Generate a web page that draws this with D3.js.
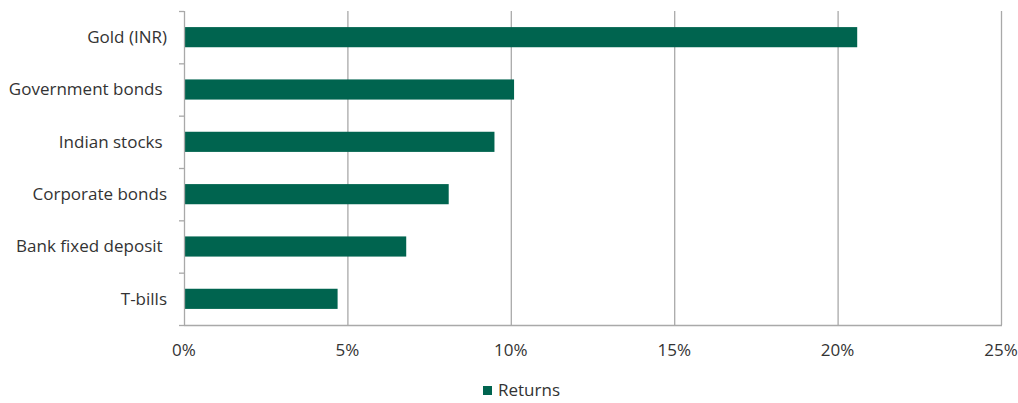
<!DOCTYPE html>
<html>
<head>
<meta charset="utf-8">
<script src="https://cdn.jsdelivr.net/npm/d3@7"></script>
<style>
  html, body { margin: 0; padding: 0; background: #fff; }
  svg { display: block; font-family: "Open Sans", "Noto Sans", sans-serif; }
  text { white-space: pre; }
</style>
</head>
<body>
<svg id="chart" width="1018" height="403"></svg>
<script>
// Average annual returns by asset class
const categories = ["Gold (INR)", "Government bonds ", "Indian stocks ", "Corporate bonds", "Bank fixed deposit ", "T-bills"];
const returns = [20.6, 10.1, 9.5, 8.1, 6.8, 4.7];
const xTicks = [0, 5, 10, 15, 20, 25];
const seriesName = "Returns";

const barColor = "#00644f";
const gridColor = "#a9a9a9";
const textColor = "#333333";
const fontSize = 17;

const svg = d3.select("#chart");
const plotLeft = 184, plotRight = 1001, plotTop = 11, plotBottom = 325;

const x = d3.scaleLinear().domain([0, 25]).range([plotLeft, plotRight]);
const y = d3.scaleBand().domain(categories).range([plotTop, plotBottom]).paddingInner(0.615).paddingOuter(0.3075);

// vertical gridlines
svg.append("g")
  .selectAll("line")
  .data(xTicks.slice(1))
  .join("line")
  .attr("x1", d => x(d) + 0.5).attr("x2", d => x(d) + 0.5)
  .attr("y1", plotTop).attr("y2", plotBottom)
  .attr("stroke", gridColor).attr("stroke-width", 1.3);

// bars
svg.append("g")
  .selectAll("rect")
  .data(categories)
  .join("rect")
  .attr("x", x(0))
  .attr("y", d => y(d))
  .attr("width", (d, i) => x(returns[i]) - x(0))
  .attr("height", y.bandwidth())
  .attr("fill", barColor);

// category axis with band-boundary ticks
const step = y.step();
const boundaries = d3.range(categories.length + 1).map(i => plotTop + i * step);
const yAxis = svg.append("g");
yAxis.append("line")
  .attr("x1", plotLeft + 0.5).attr("x2", plotLeft + 0.5)
  .attr("y1", plotTop).attr("y2", plotBottom)
  .attr("stroke", gridColor).attr("stroke-width", 1.3);
yAxis.selectAll("line.tick")
  .data(boundaries)
  .join("line").attr("class", "tick")
  .attr("x1", plotLeft - 5).attr("x2", plotLeft)
  .attr("y1", d => d + 0.5).attr("y2", d => d + 0.5)
  .attr("stroke", gridColor).attr("stroke-width", 1.3);
yAxis.selectAll("text")
  .data(categories)
  .join("text")
  .attr("x", 167)
  .attr("y", d => y(d) + y.bandwidth() / 2)
  .attr("dy", "0.35em")
  .attr("text-anchor", "end")
  .attr("fill", textColor)
  .attr("font-size", fontSize)
  .text(d => d);

// value axis
const xAxis = svg.append("g");
xAxis.append("line")
  .attr("x1", plotLeft).attr("x2", plotRight + 1)
  .attr("y1", plotBottom + 0.5).attr("y2", plotBottom + 0.5)
  .attr("stroke", gridColor).attr("stroke-width", 1.3);
xAxis.selectAll("text")
  .data(xTicks)
  .join("text")
  .attr("x", d => x(d))
  .attr("y", 356)
  .attr("text-anchor", "middle")
  .attr("fill", textColor)
  .attr("font-size", fontSize)
  .text(d => d + "%");

// legend
const legend = svg.append("g");
legend.append("rect")
  .attr("x", 483).attr("y", 386)
  .attr("width", 9).attr("height", 9)
  .attr("fill", barColor);
legend.append("text")
  .attr("x", 498).attr("y", 390.5)
  .attr("dy", "0.35em")
  .attr("fill", textColor)
  .attr("font-size", fontSize)
  .text(seriesName);
</script>
</body>
</html>
